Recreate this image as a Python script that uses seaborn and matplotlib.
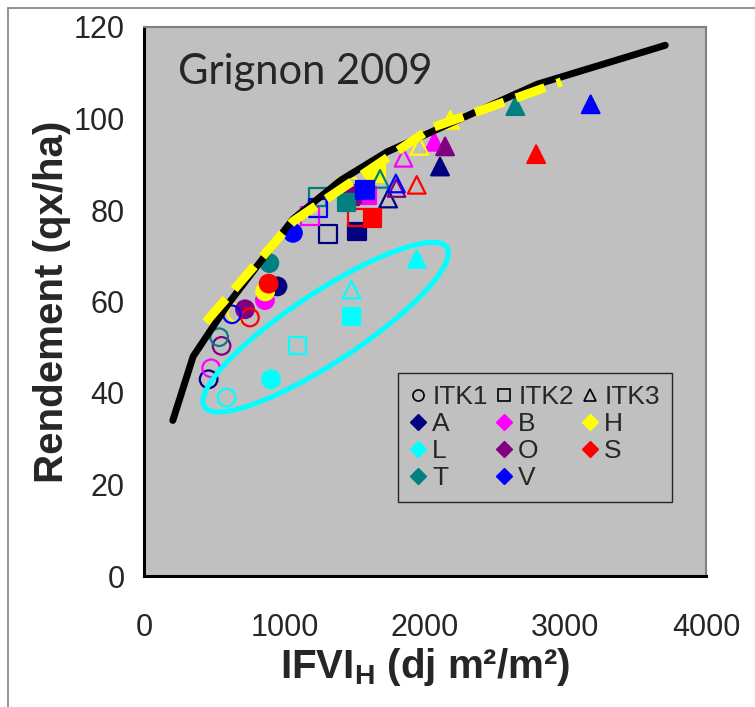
import numpy as np
import pandas as pd
import matplotlib
matplotlib.use("Agg")
import matplotlib.pyplot as plt
from matplotlib.lines import Line2D
import seaborn as sns

# ---------------- data ----------------
varieties = ['A', 'B', 'H', 'L', 'O', 'S', 'T', 'V']
var_colors = ['#000080', '#FF00FF', '#FFFF00', '#00FFFF', '#800080', '#FF0000', '#008080', '#0000FF']

# order of the six points per variety
point_itk = ['ITK1', 'ITK1', 'ITK2', 'ITK2', 'ITK3', 'ITK3']
point_filled = [False, True, False, True, False, True]

ifvi_A = [460, 950, 1311, 1514, 1738, 2107]
yld_A = [43.0, 63.3, 74.7, 75.3, 82.5, 89.5]
ifvi_B = [478, 861, 1182, 1588, 1847, 2066]
yld_B = [45.4, 60.3, 78.7, 83.2, 91.4, 94.9]
ifvi_H = [658, 862, 1445, 1650, 1960, 2180]
yld_H = [57.5, 62.2, 85.0, 88.0, 94.0, 99.7]
ifvi_L = [588, 904, 1091, 1476, 1476, 1942]
yld_L = [39.0, 43.0, 50.4, 56.7, 62.6, 69.3]
ifvi_O = [552, 719, 1470, 1480, 1797, 2143]
yld_O = [50.3, 58.3, 83.0, 83.5, 84.8, 93.9]
ifvi_S = [754, 887, 1518, 1625, 1941, 2791]
yld_S = [56.5, 63.9, 78.4, 78.3, 85.5, 92.2]
ifvi_T = [535, 892, 1234, 1442, 1680, 2643]
yld_T = [52.2, 68.4, 82.8, 81.6, 86.8, 102.7]
ifvi_V = [626, 1060, 1237, 1572, 1793, 3179]
yld_V = [57.2, 75.0, 80.4, 84.4, 85.8, 103.1]

ifvi_all = [ifvi_A, ifvi_B, ifvi_H, ifvi_L, ifvi_O, ifvi_S, ifvi_T, ifvi_V]
yld_all = [yld_A, yld_B, yld_H, yld_L, yld_O, yld_S, yld_T, yld_V]

# envelope curve (black) and yellow dashed curve
curve_x = [205, 350, 600, 1060, 1400, 1730, 2800, 3710]
curve_y = [34.0, 48.0, 59.5, 78.0, 86.5, 92.7, 107.5, 116.0]
dash_x = [440, 1060, 2050, 2970]
dash_y = [55.5, 77.5, 98.0, 108.0]

# ellipse around L (center in data, sizes in pixels)
ell_center = (1293, 54.4)

x_ticks = [0, 1000, 2000, 3000, 4000]
y_ticks = [0, 20, 40, 60, 80, 100, 120]

rows = []
for v, xs, ys in zip(varieties, ifvi_all, yld_all):
    for x, y, itk, f in zip(xs, ys, point_itk, point_filled):
        rows.append(dict(variete=v, IFVI=x, rendement=y, ITK=itk, plein=f))
df = pd.DataFrame(rows)

# ---------------- figure ----------------
sns.set_style("white")
plt.rcParams['font.family'] = ['Liberation Sans', 'DejaVu Sans']
plt.rcParams['mathtext.fontset'] = 'custom'
plt.rcParams['mathtext.bf'] = 'Liberation Sans:bold'
plt.rcParams['mathtext.rm'] = 'Liberation Sans'

fig = plt.figure(figsize=(7.55, 7.07), dpi=100)
fig.patch.set_facecolor('white')
# outer frame (left/top visible)
fig.add_artist(Line2D([8/755, 8/755], [0, 1-8/707], transform=fig.transFigure, color='#808080', lw=1.2))
fig.add_artist(Line2D([8/755, 1], [1-8/707, 1-8/707], transform=fig.transFigure, color='#808080', lw=1.2))

ax = fig.add_axes([144/755, 1-576/707, 562/755, 549/707])
ax.set_facecolor('#C0C0C0')
ax.set_xlim(0, 4000)
ax.set_ylim(0, 120)

# points
markers = {'ITK1': 'o', 'ITK2': 's', 'ITK3': '^'}
for v, col in zip(varieties, var_colors):
    sub = df[df.variete == v].reset_index(drop=True)
    sns.scatterplot(data=sub, x='IFVI', y='rendement', style='ITK', markers=markers,
                    color=col, s=160, linewidth=1.6, legend=False, ax=ax, zorder=3)
    coll = ax.collections[-1]
    fcs = [matplotlib.colors.to_rgba(col) if f else (0, 0, 0, 0) for f in sub.plein]
    coll.set_facecolors(fcs)
    coll.set_edgecolors([col] * len(sub))

# curves (drawn over the points)
sns.lineplot(x=curve_x, y=curve_y, sort=False, ax=ax, color='black', lw=5,
             solid_capstyle='round', zorder=5)
sns.lineplot(x=dash_x, y=dash_y, sort=False, ax=ax, color='#FFFF00', lw=6.5,
             dashes=False, zorder=6)
ax.lines[-1].set_dashes([3.4, 1.4])
ax.lines[-1].set_dash_capstyle('butt')

# ellipse in pixel space -> data
fig.canvas.draw()
cx, cy = ax.transData.transform(ell_center)
a_px, b_px, th = 145, 35, np.deg2rad(33.3)
t = np.linspace(0, 2*np.pi, 200)
px = cx + a_px*np.cos(t)*np.cos(th) - b_px*np.sin(t)*np.sin(th)
py = cy + a_px*np.cos(t)*np.sin(th) + b_px*np.sin(t)*np.cos(th)
ed = ax.transData.inverted().transform(np.column_stack([px, py]))
ax.plot(ed[:, 0], ed[:, 1], color='#00FFFF', lw=3.6, zorder=5)

# axes styling
for s in ['top', 'right']:
    ax.spines[s].set_color('#808080')
    ax.spines[s].set_linewidth(1.5)
for s in ['left', 'bottom']:
    ax.spines[s].set_color('black')
    ax.spines[s].set_linewidth(2.2)
ax.set_xticks(x_ticks)
ax.set_yticks(y_ticks)
ax.tick_params(axis='both', direction='out', length=7, width=2, color='black',
               labelsize=22)
ax.tick_params(axis='y', pad=7)
ax.tick_params(axis='x', pad=20)
ax.set_xlabel(r'IFVI$_{\mathbf{H}}$ (dj m²/m²)', fontsize=29, fontweight='bold', labelpad=2)
ax.set_ylabel('Rendement (qx/ha)', fontsize=29, fontweight='bold', labelpad=2)

ax.text(0.06, 0.896, 'Grignon 2009', transform=ax.transAxes, fontsize=30,
        family=['Lato', 'DejaVu Sans'], va='baseline', ha='left')

# legend
handles = []
labels = []
itk_h = [('ITK1', 'o'), ('ITK2', 's'), ('ITK3', '^')]
var_h = [(v, c) for v, c in zip(varieties, var_colors)]
col1 = [itk_h[0], var_h[0], var_h[3], var_h[6]]
col2 = [itk_h[1], var_h[1], var_h[4], var_h[7]]
col3 = [itk_h[2], var_h[2], var_h[5]]
for colset in [col1, col2, col3]:
    for lab, m in colset:
        if lab.startswith('ITK'):
            handles.append(Line2D([], [], ls='none', marker=m, markersize=8,
                                  markerfacecolor='none', markeredgecolor='black', markeredgewidth=1.2))
        else:
            handles.append(Line2D([], [], ls='none', marker='D', markersize=8,
                                  markerfacecolor=m, markeredgecolor=m))
        labels.append(lab)
leg = ax.legend(handles, labels, ncol=3, loc='upper left', bbox_to_anchor=(0.452, 0.370),
                borderaxespad=0, frameon=True, fontsize=19, handlelength=0.6,
                handletextpad=0.25, columnspacing=0.3, labelspacing=0.12,
                borderpad=0.45, fancybox=False)
leg.get_frame().set_facecolor('#C0C0C0')
leg.get_frame().set_edgecolor('black')
leg.get_frame().set_linewidth(1.0)
leg.set_zorder(7)

fig.savefig('out.png', dpi=100)
